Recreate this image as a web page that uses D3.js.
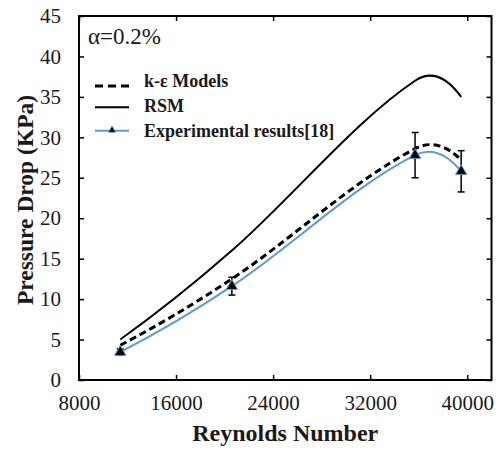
<!DOCTYPE html>
<html><head><meta charset="utf-8">
<script src="https://cdn.jsdelivr.net/npm/d3@7/dist/d3.min.js"></script>
<style>
html,body{margin:0;padding:0;background:#fff;}
svg{display:block;}
text{font-family:"Liberation Serif","Times New Roman",serif;}
</style></head>
<body><svg id="c" width="499" height="454"></svg>
<script>
const reynolds = [11400, 20600, 35700, 39500];
const kEpsilon = [4.3, 12.5, 28.6, 27.2];
const rsm = [5.0, 16.0, 37.0, 35.0];
const experimental = [3.45, 11.6, 27.8, 25.8];
const expError = [0.4, 1.1, 2.8, 2.55];
const xTicks = [8000, 16000, 24000, 32000, 40000];
const yTicks = [0, 5, 10, 15, 20, 25, 30, 35, 40, 45];
const legendLabels = ["k-\u03b5 Models", "RSM", "Experimental results[18]"];
const annotation = "\u03b1=0.2%";

const svg = d3.select("#c");
const L = 79, R = 491.5, T = 16, B = 380;
const x = d3.scaleLinear().domain([8000, 42000]).range([L, R]);
const y = d3.scaleLinear().domain([0, 45]).range([B, T]);
const blue = "#5b9bd5";
const FONT = '"Liberation Serif","Times New Roman",serif';

function styleAxis(g){
  g.select(".domain").remove();
  g.selectAll(".tick line").attr("stroke","#000").attr("stroke-width",1.5);
  g.selectAll(".tick text").attr("fill","#1a1a1a").style("font-size","21px").style("font-family",FONT);
}
svg.append("g").attr("transform",`translate(0,${B})`)
  .call(d3.axisBottom(x).tickValues(xTicks).tickFormat(d3.format("d")).tickSizeInner(-5).tickSizeOuter(0).tickPadding(15))
  .call(styleAxis);
svg.append("g").attr("transform",`translate(0,${T})`)
  .call(d3.axisTop(x).tickValues(xTicks).tickFormat("").tickSizeInner(-5).tickSizeOuter(0))
  .call(styleAxis);
svg.append("g").attr("transform",`translate(${L},0)`)
  .call(d3.axisLeft(y).tickValues(yTicks).tickSizeInner(-5).tickSizeOuter(0).tickPadding(18))
  .call(styleAxis);
svg.append("g").attr("transform",`translate(${R},0)`)
  .call(d3.axisRight(y).tickValues(yTicks).tickFormat("").tickSizeInner(-5).tickSizeOuter(0))
  .call(styleAxis);

svg.append("rect").attr("x",L).attr("y",T).attr("width",R-L).attr("height",B-T)
  .attr("fill","none").attr("stroke","#000").attr("stroke-width",2);

// smooth line: cubic Hermite in x (spreadsheet-style smoothing)
function smoothPath(vals){
  const p = reynolds.map((r,i)=>[x(r), y(vals[i])]);
  const n = p.length, m = new Array(n);
  for(let i=1;i<n-1;i++) m[i] = (p[i+1][1]-p[i-1][1])/(p[i+1][0]-p[i-1][0]);
  const s0 = (p[1][1]-p[0][1])/(p[1][0]-p[0][0]);
  const sn = (p[n-1][1]-p[n-2][1])/(p[n-1][0]-p[n-2][0]);
  m[0] = 2*s0 - m[1];
  m[n-1] = 2*sn - m[n-2];
  const path = d3.path();
  path.moveTo(p[0][0], p[0][1]);
  for(let i=0;i<n-1;i++){
    const h = (p[i+1][0]-p[i][0])/3;
    path.bezierCurveTo(p[i][0]+h, p[i][1]+m[i]*h, p[i+1][0]-h, p[i+1][1]-m[i+1]*h, p[i+1][0], p[i+1][1]);
  }
  return path.toString();
}

svg.append("path").attr("d", smoothPath(rsm)).attr("fill","none").attr("stroke","#000").attr("stroke-width",2);
svg.append("path").attr("d", smoothPath(kEpsilon)).attr("fill","none").attr("stroke","#000").attr("stroke-width",3).attr("stroke-dasharray","7,4");
svg.append("path").attr("d", smoothPath(experimental)).attr("fill","none").attr("stroke",blue).attr("stroke-width",2);

// error bars
const eb = svg.append("g").attr("stroke","#000").attr("stroke-width",1.5);
reynolds.forEach((r,i)=>{
  const cx = x(r), y1 = y(experimental[i]+expError[i]), y2 = y(experimental[i]-expError[i]);
  eb.append("line").attr("x1",cx).attr("x2",cx).attr("y1",y1).attr("y2",y2);
  eb.append("line").attr("x1",cx-3.5).attr("x2",cx+3.5).attr("y1",y1).attr("y2",y1);
  eb.append("line").attr("x1",cx-3.5).attr("x2",cx+3.5).attr("y1",y2).attr("y2",y2);
});
const tri = d3.symbol().type(d3.symbolTriangle).size(55);
svg.append("g").selectAll("path").data(reynolds.map((r,i)=>[r, experimental[i]])).join("path")
  .attr("d", tri).attr("transform", d=>`translate(${x(d[0])},${y(d[1])})`)
  .attr("fill","#000").attr("stroke",blue).attr("stroke-width",1);

// annotation
svg.append("text").attr("x",88).attr("y",44).text(annotation).style("font-size","23px").attr("fill","#1a1a1a");

// legend
const lg = svg.append("g");
const lineY = [86, 107.3, 130.7];
const textY = [80.5, 105.8, 131];
lg.append("line").attr("x1",95).attr("x2",129).attr("y1",lineY[0]).attr("y2",lineY[0]).attr("stroke","#000").attr("stroke-width",3).attr("stroke-dasharray","8,5");
lg.append("line").attr("x1",95).attr("x2",129).attr("y1",lineY[1]).attr("y2",lineY[1]).attr("stroke","#000").attr("stroke-width",2);
lg.append("line").attr("x1",95).attr("x2",129).attr("y1",lineY[2]).attr("y2",lineY[2]).attr("stroke",blue).attr("stroke-width",2);
lg.append("path").attr("d", d3.symbol().type(d3.symbolTriangle).size(22)).attr("transform",`translate(112,${lineY[2]-0.5})`).attr("fill","#000").attr("stroke",blue).attr("stroke-width",0.8);
legendLabels.forEach((t,i)=>{
  lg.append("text").attr("x",144).attr("y",textY[i]).attr("dy","0.35em").text(t)
    .style("font-size","18px").style("font-weight","bold").attr("fill","#1a1a1a");
});

// axis titles
svg.append("text").attr("x",(L+R)/2).attr("y",441).attr("text-anchor","middle")
  .text("Reynolds Number").style("font-size","24px").style("font-weight","bold").attr("fill","#1a1a1a");
svg.append("text").attr("transform",`translate(33,200) rotate(-90)`).attr("text-anchor","middle")
  .text("Pressure Drop (KPa)").style("font-size","23.5px").style("font-weight","bold").attr("fill","#1a1a1a");
</script></body></html>
